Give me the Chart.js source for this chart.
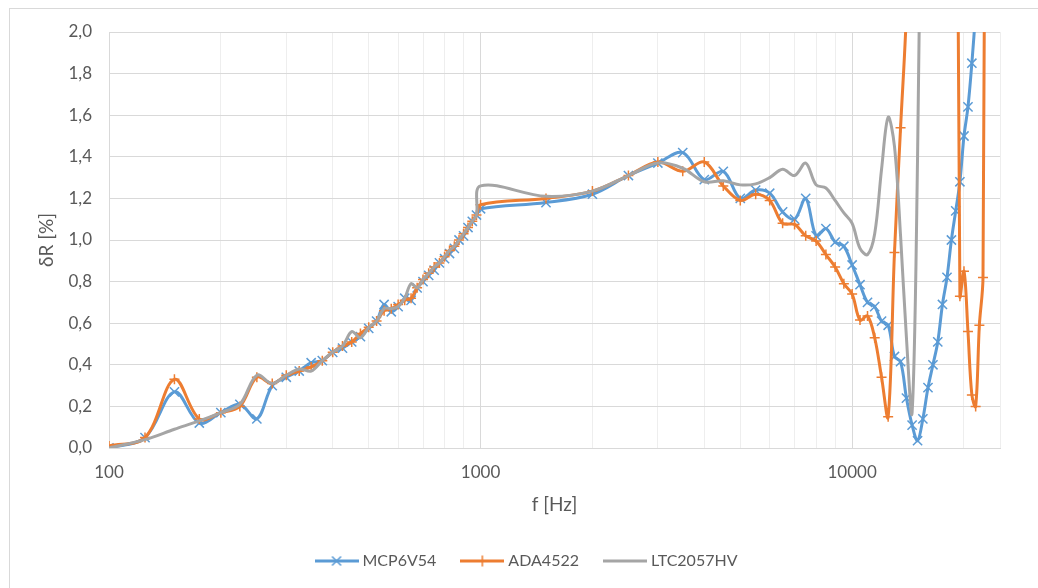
<!DOCTYPE html>
<html>
<head>
<meta charset="utf-8">
<title>δR vs f</title>
<script src="https://cdn.jsdelivr.net/npm/chart.js@4.4.1/dist/chart.umd.min.js"></script>
<style>
  html, body { margin: 0; padding: 0; background: #fff; overflow: hidden; }
  canvas { display: block; }
</style>
</head>
<body>
<canvas id="chartDeltaR" width="1038" height="588"></canvas>
<script>
// measurement frequencies [Hz]
const freqs = [
  100, 125, 150, 175, 200, 225, 250, 275, 300, 325, 350, 375, 400, 425, 450, 475,
  500, 525, 550, 575, 600, 625, 650, 675, 700, 725, 750, 775, 800, 825, 850, 875,
  900, 925, 950, 975, 1000,
  1500, 2000, 2500, 3000, 3500, 4000, 4500, 5000, 5500, 6000, 6500, 7000, 7500,
  8000, 8500, 9000, 9500, 10000, 10500, 11000, 11500, 12000, 12500, 13000, 13500,
  14000, 14500, 15000, 15500, 16000, 16500, 17000, 17500, 18000, 18500, 19000,
  19500, 20000, 20500, 21000, 21500, 22000, 22500, 23000
]

// δR [%] per op-amp
const mcp6v54 = [
  0.00, 0.05, 0.27, 0.12, 0.17, 0.21, 0.14, 0.30, 0.34, 0.37, 0.41, 0.42, 0.46, 0.48, 0.51, 0.535,
  0.575, 0.61, 0.69, 0.655, 0.68, 0.72, 0.71, 0.77, 0.80, 0.83, 0.855, 0.89, 0.91, 0.935, 0.96, 1.00,
  1.02, 1.06, 1.09, 1.12, 1.15,
  1.18, 1.22, 1.31, 1.37, 1.42, 1.29, 1.33, 1.20, 1.24, 1.225, 1.135, 1.10, 1.20,
  1.02, 1.055, 0.99, 0.97, 0.88, 0.785, 0.70, 0.68, 0.61, 0.59, 0.44, 0.415,
  0.24, 0.11, 0.035, 0.14, 0.29, 0.40, 0.51, 0.69, 0.82, 1.00, 1.14,
  1.28, 1.50, 1.64, 1.85, 2.10, 2.40, null, null
]
const ada4522 = [
  0.01, 0.05, 0.33, 0.14, 0.17, 0.20, 0.34, 0.31, 0.35, 0.37, 0.39, 0.42, 0.46, 0.49, 0.51, 0.55,
  0.58, 0.61, 0.66, 0.67, 0.69, 0.71, 0.72, 0.77, 0.81, 0.84, 0.87, 0.89, 0.92, 0.95, 0.97, 1.00,
  1.03, 1.06, 1.09, 1.12, 1.17,
  1.20, 1.235, 1.31, 1.375, 1.33, 1.375, 1.26, 1.19, 1.22, 1.19, 1.08, 1.075, 1.02,
  0.995, 0.93, 0.87, 0.79, 0.74, 0.615, 0.635, 0.53, 0.34, 0.15, 0.94, 1.54,
  2.10, 3.2, 3.8, 4.0, 4.0, 4.0, 4.0, 4.0, 4.0, 4.0, 4.0,
  0.73, 0.85, 0.56, 0.255, 0.20, 0.59, 0.82, 5.0
]
const ltc2057hv = [
  0.00, 0.04, 0.09, 0.13, 0.17, 0.21, 0.35, 0.31, 0.35, 0.38, 0.37, 0.42, 0.46, 0.49, 0.56, 0.53,
  0.58, 0.61, 0.67, 0.67, 0.68, 0.72, 0.79, 0.77, 0.81, 0.84, 0.87, 0.89, 0.92, 0.95, 0.97, 1.00,
  1.03, 1.06, 1.09, 1.12, 1.26,
  1.21, 1.235, 1.31, 1.37, 1.345, 1.28, 1.285, 1.265, 1.27, 1.30, 1.34, 1.31, 1.37,
  1.265, 1.25, 1.19, 1.13, 1.08, 0.96, 0.93, 1.03, 1.34, 1.59, 1.45, 1.02,
  0.53, 0.17, 1.4, 3.5, 5.0, null, null, null, null, null, null,
  null, null, null, null, null, null, null, null
]

// log axis: gridlines and labelled decades
const xGridTicks = [100, 200, 300, 400, 500, 600, 700, 800, 900,
  1000, 2000, 3000, 4000, 5000, 6000, 7000, 8000, 9000, 10000, 20000, 25000]
const xLabelTicks = [100, 1000, 10000]

const textColor = '#595959'
const gridColor = '#d9d9d9'
const minorGridColor = '#eeeeee'
const fontFamily = 'Lato, "Open Sans", sans-serif'
const tickFont = { family: fontFamily, size: 17 }
const titleFont = { family: fontFamily, size: 19 }
const legendFont = { family: fontFamily, size: 16 }

const toPoints = vals => freqs.map((f, i) => ({ x: f, y: vals[i] }))

const legendIcon = (color, marker) => {
  const c = document.createElement('canvas')
  c.width = 44
  c.height = 14
  const g = c.getContext('2d')
  g.strokeStyle = color
  g.lineWidth = 3
  g.beginPath()
  g.moveTo(0, 7)
  g.lineTo(44, 7)
  g.stroke()
  g.lineWidth = 1.5
  g.beginPath()
  if (marker === 'crossRot') {
    g.moveTo(17.5, 2.5); g.lineTo(26.5, 11.5)
    g.moveTo(26.5, 2.5); g.lineTo(17.5, 11.5)
  } else if (marker === 'cross') {
    g.moveTo(22, 1.5); g.lineTo(22, 12.5)
    g.moveTo(16.5, 7); g.lineTo(27.5, 7)
  }
  g.stroke()
  return c
}

const series = [
  { label: 'MCP6V54', values: mcp6v54, color: '#5b9bd5', marker: 'crossRot', radius: 6.5, order: 2 },
  { label: 'ADA4522', values: ada4522, color: '#ed7d31', marker: 'cross', radius: 5, order: 1 },
  { label: 'LTC2057HV', values: ltc2057hv, color: '#a5a5a5', marker: false, radius: 0, order: 0 }
]

// thin outer frame of the chart area
const chartFrame = {
  id: 'chartFrame',
  beforeDraw(chart) {
    const ctx = chart.ctx
    ctx.save()
    ctx.strokeStyle = gridColor
    ctx.lineWidth = 1
    ctx.strokeRect(9.5, 8.5, 1200, 800)
    ctx.restore()
  }
}

// centre the legend under the whole frame, not only the plot
const legendShift = {
  id: 'legendShift',
  afterLayout(chart) {
    chart.legend.left += 28
    chart.legend.right += 28
  }
}

const ctx = document.getElementById('chartDeltaR').getContext('2d')
const myChart = new Chart(ctx, {
  type: 'line',
  data: {
    datasets: series.map(s => ({
      label: s.label,
      data: toPoints(s.values),
      borderColor: s.color,
      backgroundColor: s.color,
      borderWidth: 3,
      pointStyle: s.marker,
      pointRadius: s.radius,
      pointBorderWidth: 1.5,
      pointBorderColor: s.color,
      pointBackgroundColor: s.color,
      tension: 0.35,
      fill: false,
      order: s.order,
      icon: legendIcon(s.color, s.marker)
    }))
  },
  options: {
    responsive: false,
    animation: false,
    layout: { padding: { top: 32, left: 0, right: 38, bottom: 9 } },
    plugins: {
      tooltip: { enabled: false },
      legend: {
        position: 'bottom',
        labels: {
          usePointStyle: true,
          pointStyleWidth: 36,
          padding: 28,
          color: textColor,
          font: legendFont,
          generateLabels: chart => chart.data.datasets.map((ds, i) => ({
            text: ds.label,
            pointStyle: ds.icon,
            fillStyle: ds.borderColor,
            strokeStyle: ds.borderColor,
            lineWidth: 0,
            fontColor: textColor,
            datasetIndex: i,
            hidden: false
          }))
        }
      }
    },
    scales: {
      x: {
        type: 'logarithmic',
        min: 100,
        max: 25000,
        afterBuildTicks: axis => { axis.ticks = xGridTicks.map(v => ({ value: v })) },
        afterFit: axis => { axis.height = 77 },
        ticks: {
          autoSkip: false,
          maxRotation: 0,
          padding: 14,
          color: textColor,
          font: tickFont,
          callback: v => xLabelTicks.includes(v) ? String(v) : ''
        },
        grid: {
          drawTicks: false,
          color: c => c.tick && xLabelTicks.includes(c.tick.value) ? gridColor : minorGridColor
        },
        border: { color: gridColor },
        title: { display: true, text: 'f [Hz]', color: textColor, font: titleFont, padding: { top: 0, bottom: 8.5 } }
      },
      y: {
        min: 0,
        max: 2,
        afterFit: axis => { axis.width = 109 },
        ticks: {
          stepSize: 0.2,
          padding: 17,
          color: textColor,
          font: tickFont,
          callback: v => v.toFixed(1).replace('.', ',')
        },
        grid: { drawTicks: false, color: gridColor },
        border: { color: gridColor },
        title: { display: true, text: 'δR [%]', color: textColor, font: titleFont, padding: { top: 35.5, bottom: 0 } }
      }
    }
  },
  plugins: [chartFrame, legendShift]
})
</script>
</body>
</html>
